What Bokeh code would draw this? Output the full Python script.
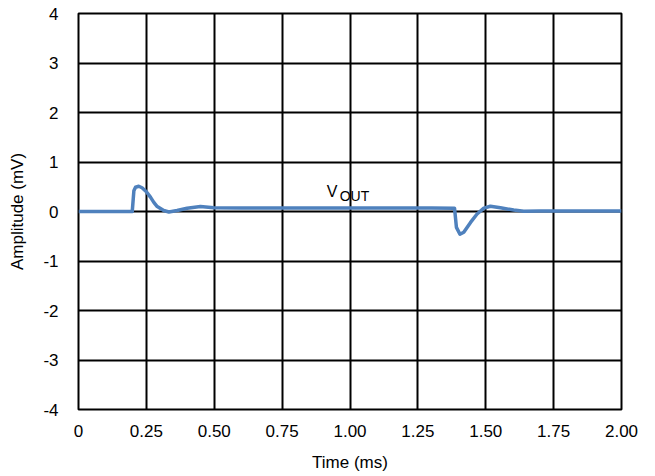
from bokeh.plotting import figure
from bokeh.models import FixedTicker, Range1d
from bokeh.embed import file_html
from bokeh.resources import INLINE
from bokeh.core.properties import value

# Data
time_ms = [0.0, 0.10, 0.190, 0.198, 0.204, 0.210, 0.222, 0.234, 0.250, 0.265, 0.278,
           0.290, 0.314, 0.333, 0.363, 0.400, 0.449, 0.498, 0.60, 0.80, 1.00, 1.20,
           1.30, 1.385, 1.392, 1.405, 1.419, 1.444, 1.468, 1.493, 1.517, 1.554, 1.603,
           1.640, 1.70, 1.80, 1.90, 2.00]
vout_mv = [0.00, 0.00, 0.00, 0.00, 0.42, 0.49, 0.51, 0.48, 0.40, 0.29, 0.18,
           0.10, 0.02, -0.01, 0.02, 0.067, 0.10, 0.075, 0.07, 0.07, 0.07, 0.07,
           0.07, 0.067, -0.32, -0.46, -0.42, -0.22, -0.05, 0.067, 0.107, 0.074, 0.03,
           0.003, 0.01, 0.01, 0.01, 0.01]

x_ticks = [0, 0.25, 0.5, 0.75, 1.0, 1.25, 1.5, 1.75, 2.0]
x_tick_labels = ["0", "0.25", "0.50", "0.75", "1.00", "1.25", "1.50", "1.75", "2.00"]
y_ticks = [-4, -3, -2, -1, 0, 1, 2, 3, 4]
y_tick_labels = ["-4", "-3", "-2", "-1", "0", "1", "2", "3", "4"]

FONT = "Liberation Sans"

p = figure(frame_width=543, frame_height=396,
           min_border_left=78, min_border_right=26, min_border_top=13, min_border_bottom=55,
           output_backend="svg", toolbar_location=None,
           x_range=Range1d(0, 2), y_range=Range1d(-4, 4))

p.outline_line_color = "black"
p.outline_line_width = 2
p.background_fill_color = "white"
p.border_fill_color = "white"

for grid in (p.xgrid, p.ygrid):
    grid.grid_line_color = "black"
    grid.grid_line_width = 2

p.xaxis.ticker = FixedTicker(ticks=x_ticks)
p.yaxis.ticker = FixedTicker(ticks=y_ticks)
p.xaxis.major_label_overrides = {t: l for t, l in zip(x_ticks, x_tick_labels)}
p.yaxis.major_label_overrides = {t: l for t, l in zip(y_ticks, y_tick_labels)}

for ax in (p.xaxis, p.yaxis):
    ax.axis_line_color = None
    ax.major_tick_line_color = None
    ax.minor_tick_line_color = None
    ax.major_label_text_font = FONT
    ax.major_label_text_font_size = "17px"
    ax.major_label_text_color = "black"
    ax.axis_label_text_font = FONT
    ax.axis_label_text_font_size = "17px"
    ax.axis_label_text_font_style = "normal"
    ax.axis_label_text_color = "black"

p.xaxis.axis_label = "Time (ms)"
p.yaxis.axis_label = "Amplitude (mV)"
p.xaxis.major_label_standoff = 9
p.yaxis.major_label_standoff = 14
p.xaxis.axis_label_standoff = 13
p.yaxis.axis_label_standoff = 13

p.line(time_ms, vout_mv, line_color="#4F81BD", line_width=3.5, line_join="round")

p.text(x=[0.914], y=[0.404], text=["V"], text_font=value(FONT), text_font_size="16px",
       text_color="black", text_baseline="alphabetic")
p.text(x=[0.962], y=[0.323], text=["OUT"], text_font=value(FONT), text_font_size="14px",
       text_color="black", text_baseline="alphabetic")

open("out.html", "w").write(file_html(p, INLINE))
